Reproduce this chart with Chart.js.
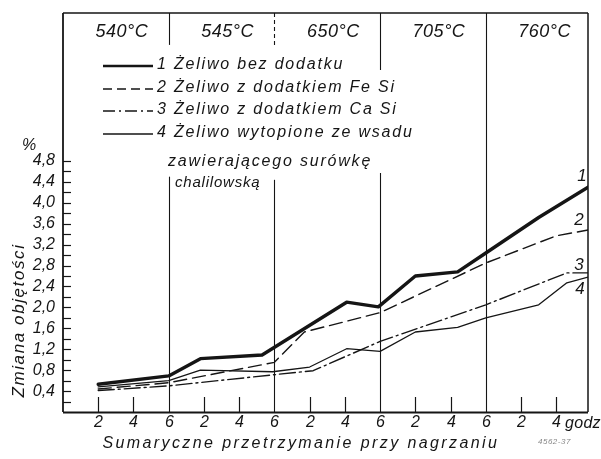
<!DOCTYPE html>
<html>
<head>
<meta charset="utf-8">
<script src="https://cdn.jsdelivr.net/npm/chart.js@4.4.1/dist/chart.umd.min.js"></script>
<style>
  html, body { margin: 0; padding: 0; background: #fff; }
  canvas { display: block; }
</style>
</head>
<body>
<canvas id="chart" width="601" height="459"></canvas>
<script>
// Annealing stages (6 h each) and their temperatures
const stageTemperatures = ['540°C', '545°C', '650°C', '705°C', '760°C'];
const stageHours = 6;

// Hour ticks on the time axis and the labels printed under them
const hourTicks = [2, 4, 6, 8, 10, 12, 14, 16, 18, 20, 22, 24, 26, 28];
const hourTickLabels = ['2', '4', '6', '2', '4', '6', '2', '4', '6', '2', '4', '6', '2', '4'];

// Volume-change ticks (%)
const valueTicks = [0.4, 0.8, 1.2, 1.6, 2.0, 2.4, 2.8, 3.2, 3.6, 4.0, 4.4, 4.8];
const valueTickLabels = ['0,4', '0,8', '1,2', '1,6', '2,0', '2,4', '2,8', '3,2', '3,6', '4,0', '4,4', '4,8'];
const minorValueTicks = [0.2, 0.4, 0.6, 0.8, 1.0, 1.2, 1.4, 1.6, 1.8, 2.0, 2.2, 2.4, 2.6, 2.8, 3.0, 3.2, 3.4, 3.6, 3.8, 4.0, 4.2, 4.4, 4.6, 4.8];

// Curve 1 – cast iron without additive
const iron1Hours = [2, 6, 7.8, 11.3, 16.1, 17.9, 20, 22.4, 24, 27, 29.8];
const iron1Change = [0.53, 0.69, 1.02, 1.09, 2.10, 2.01, 2.60, 2.68, 3.04, 3.72, 4.30];

// Curve 2 – with FeSi
const iron2Hours = [2, 6, 12, 13.7, 18, 24, 28, 29.8];
const iron2Change = [0.44, 0.56, 0.95, 1.53, 1.90, 2.85, 3.37, 3.48];

// Curve 3 – with CaSi
const iron3Hours = [2, 6, 11.9, 14.2, 18, 24, 28.6, 29.8];
const iron3Change = [0.41, 0.50, 0.71, 0.79, 1.35, 2.05, 2.66, 2.66];

// Curve 4 – melted from a charge with Khalilovo pig iron
const iron4Hours = [2, 6, 7.8, 11.9, 14, 16.1, 18, 20, 22.4, 24, 27, 28.6, 29.8];
const iron4Change = [0.48, 0.60, 0.80, 0.77, 0.86, 1.21, 1.16, 1.53, 1.62, 1.80, 2.05, 2.47, 2.58];

const curveNumbers = ['1', '2', '3', '4'];
const legendLines = [
  ['1 Żeliwo bez dodatku'],
  ['2 Żeliwo z dodatkiem Fe Si'],
  ['3 Żeliwo z dodatkiem Ca Si'],
  ['4 Żeliwo wytopione ze wsadu', 'zawierającego surówkę', 'chalilowską']
];

const yTitle = 'Zmiana objętości';
const yUnit = '%';
const xTitle = 'Sumaryczne przetrzymanie przy nagrzaniu';
const xUnit = 'godz';
const figureCode = '4562-37';

const INK = '#151515';
const FONT = '"Liberation Sans", Arial, sans-serif';

function pts(xs, ys) { return xs.map((x, i) => ({ x, y: ys[i] })); }

const styles = [
  { borderWidth: 3.4, borderDash: [] },
  { borderWidth: 1.4, borderDash: [13, 6] },
  { borderWidth: 1.4, borderDash: [16, 4, 2, 4] },
  { borderWidth: 1.3, borderDash: [] }
];

const datasets = [
  pts(iron1Hours, iron1Change),
  pts(iron2Hours, iron2Change),
  pts(iron3Hours, iron3Change),
  pts(iron4Hours, iron4Change)
].map((data, i) => ({
  label: legendLines[i][0],
  data,
  showLine: true,
  tension: 0,
  pointRadius: 0,
  borderColor: INK,
  borderWidth: styles[i].borderWidth,
  borderDash: styles[i].borderDash,
  borderCapStyle: 'round',
  borderJoinStyle: 'round'
}));

function line(ctx, x1, y1, x2, y2, w, dash) {
  ctx.save();
  ctx.beginPath();
  ctx.lineWidth = w;
  ctx.strokeStyle = INK;
  ctx.setLineDash(dash || []);
  ctx.moveTo(x1, y1);
  ctx.lineTo(x2, y2);
  ctx.stroke();
  ctx.restore();
}

function text(ctx, s, x, y, size, align, spacing) {
  ctx.save();
  ctx.font = 'italic ' + size + 'px ' + FONT;
  ctx.fillStyle = INK;
  ctx.textAlign = align || 'left';
  ctx.textBaseline = 'middle';
  ctx.letterSpacing = (spacing || 0) + 'px';
  ctx.fillText(s, x, y);
  ctx.restore();
}

const decorations = {
  id: 'decorations',
  beforeDatasetsDraw(chart) {
    const { ctx, chartArea: a, scales: { x, y } } = chart;
    // stage boundaries inside the plot
    const starts = [4.5, 4.44, 4.57];
    for (let k = 1; k < stageTemperatures.length; k++) {
      const px = Math.round(x.getPixelForValue(k * stageHours)) + 0.5;
      const top = k < 4 ? y.getPixelForValue(starts[k - 1]) : a.top;
      line(ctx, px, top, px, a.bottom, 1.1);
    }
    // stage boundaries in the header strip
    const headerEnds = [7.02, 6.98, 6.54];
    for (let k = 1; k < 4; k++) {
      const px = Math.round(x.getPixelForValue(k * stageHours)) + 0.5;
      line(ctx, px, a.top, px, y.getPixelForValue(headerEnds[k - 1]), 1.1, k === 2 ? [4, 3] : []);
    }
  },
  afterDraw(chart) {
    const { ctx, chartArea: a, scales: { x, y } } = chart;
    // frame
    line(ctx, a.left, a.top, a.right, a.top, 1.5);
    line(ctx, a.right, a.top, a.right, a.bottom, 1.5);
    line(ctx, a.left, a.bottom + 0.5, a.right, a.bottom + 0.5, 1.8);
    line(ctx, a.left, a.top, a.left, a.bottom, 1.8);

    // inward ticks on the value axis
    minorValueTicks.forEach(v => {
      const py = Math.round(y.getPixelForValue(v)) + 0.5;
      line(ctx, a.left, py, a.left + 8, py, 1.2);
    });
    valueTicks.forEach((v, i) => {
      text(ctx, valueTickLabels[i], a.left - 8, y.getPixelForValue(v), 16, 'right');
    });
    text(ctx, yUnit, a.left - 34, y.getPixelForValue(5.1), 16, 'center');

    // hour ticks (stage boundaries carry their own full line)
    hourTicks.forEach((h, i) => {
      const px = Math.round(x.getPixelForValue(h)) + 0.5;
      if (h % stageHours !== 0) line(ctx, px, a.bottom - 15, px, a.bottom, 1.2);
      text(ctx, hourTickLabels[i], px, a.bottom + 11, 16, 'center');
    });
    text(ctx, xUnit, a.right - 23, a.bottom + 12, 16, 'left', 0.3);

    // axis titles
    text(ctx, xTitle, x.getPixelForValue(13.5), a.bottom + 32, 16, 'center', 2.4);
    ctx.save();
    ctx.translate(a.left - 44, y.getPixelForValue(1.75));
    ctx.rotate(-Math.PI / 2);
    text(ctx, yTitle, 0, 0, 17, 'center', 1.6);
    ctx.restore();

    ctx.save();
    ctx.globalAlpha = 0.55;
    text(ctx, figureCode, a.right - 50, a.bottom + 30, 8, 'left', 0.5);
    ctx.restore();

    // temperature header
    stageTemperatures.forEach((t, k) => {
      const cx = x.getPixelForValue(k * stageHours + stageHours / 2) + 6;
      text(ctx, t, cx, a.top + 19, 18, 'center', 0.5);
    });

    // legend
    const lx1 = 103, lx2 = 153, tx = 157;
    const rows = [65, 88, 110, 133];
    chart.data.datasets.forEach((ds, i) => {
      line(ctx, lx1, rows[i] + 1, lx2, rows[i] + 1, i === 0 ? 2.6 : 1.3, i === 1 ? [9, 5] : (i === 2 ? [12, 4, 2, 4] : []));
      text(ctx, legendLines[i][0], tx, rows[i], 16, 'left', 1.8);
    });
    text(ctx, legendLines[3][1], 168, 162, 16, 'left', 1.8);
    text(ctx, legendLines[3][2], 175, 183, 15, 'left', 0.8);

    // curve numbers at the right edge
    const numberPos = [[4.5, -6], [3.66, -9], [2.8, -9], [2.35, -8]];
    curveNumbers.forEach((n, i) => {
      text(ctx, n, a.right + numberPos[i][1], y.getPixelForValue(numberPos[i][0]), 17, 'center');
    });
  }
};

new Chart(document.getElementById('chart'), {
  type: 'scatter',
  data: { datasets },
  options: {
    responsive: false,
    animation: false,
    events: [],
    layout: { padding: { left: 63, top: 13, right: 13, bottom: 47 } },
    plugins: { legend: { display: false }, tooltip: { enabled: false } },
    scales: {
      x: { type: 'linear', min: 0, max: 29.8, display: false },
      y: { type: 'linear', min: 0, max: 7.63, display: false }
    }
  },
  plugins: [decorations]
});
</script>
</body>
</html>
